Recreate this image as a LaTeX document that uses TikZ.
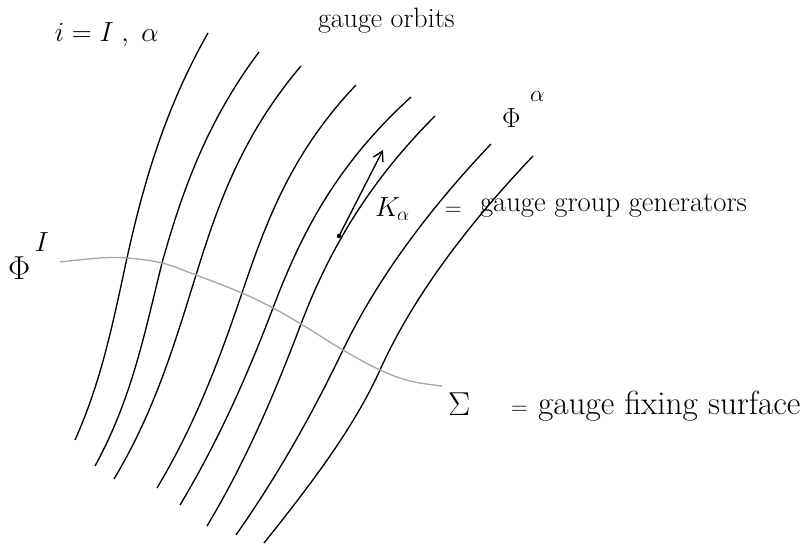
\documentclass[tikz,border=0pt]{standalone}
\usetikzlibrary{arrows.meta}
\tikzset{
  orbit/.style={line width=1pt, black},
  fixsurf/.style={line width=1pt, black!35},
  lbl/.style={anchor=base west, inner sep=0pt, outer sep=0pt},
}
\newcommand{\fs}[1]{\fontsize{#1}{#1}\selectfont}
\begin{document}
\begin{tikzpicture}[x=0.75pt, y=-0.75pt]
\useasboundingbox (0,0) rectangle (808,545);
% gauge orbits
\draw[orbit] (208,33) .. controls (165.3,108) and (143.5,183) .. (127,258)
                      .. controls (113.7,318.7) and (102.3,379.3) .. (75,440);
\draw[orbit] (259,52) .. controls (206.3,122.3) and (181.7,192.7) .. (162,263)
                      .. controls (145.1,330.7) and (132.2,398.3) .. (95,466);
\draw[orbit] (301,66) .. controls (241.8,135.7) and (217.6,205.3) .. (196,275)
                      .. controls (174.9,343) and (154.8,411) .. (114,479);
\draw[orbit] (356,85) .. controls (290.1,154.3) and (265.6,223.7) .. (242,293)
                      .. controls (219.9,358) and (196,423) .. (157,488);
\draw[orbit] (411,97) .. controls (333.7,167.3) and (299.7,237.7) .. (273,308)
                      .. controls (248,373.7) and (219.4,439.3) .. (180,505);
\draw[orbit] (435,116) .. controls (365.7,185.3) and (327.3,254.7) .. (301,324)
                       .. controls (275.4,391.3) and (247.4,458.7) .. (207,526);
\draw[orbit] (491,144) .. controls (425.8,212.7) and (376,281.3) .. (343,350)
                       .. controls (313.4,411.7) and (279.2,473.3) .. (236,535);
\draw[orbit] (533,156) .. controls (465.3,227.3) and (412.1,298.7) .. (380,370)
                       .. controls (354,427.7) and (310.2,485.3) .. (264,543);
% gauge fixing surface
\draw[fixsurf] plot[smooth, tension=0.6] coordinates {(60,262) (100,258) (127,258) (162,263) (196,275) (242,293) (273,308) (301,324) (343,350) (380,370) (410,381) (442,386)};
% generator arrow
\coordinate (kbase) at (339,236);
\coordinate (ktip) at (383,150);
\fill (kbase) circle[radius=2.2];
\draw[line width=1pt, -{Straight Barb[length=7pt, width=8pt]}] (kbase) -- (ktip);
% labels
\node[lbl] (idx) at (55,42) {\fs{20}$i = I\;,\ \alpha$};
\node[lbl] (orb) at (318,28) {\fs{21}gauge orbits};
\node[lbl] (phia) at (502,128) {\fs{22}$\Phi$};
\node[lbl] (phiasup) at (530,102) {\fs{18}$\alpha$};
\node[lbl] (kk) at (375,217) {\fs{20}$K$};
\node[lbl] (kksub) at (397,221) {\fs{15}$\alpha$};
\node[lbl] (eq1) at (445,216) {\fs{17}$=$};
\node[lbl] (ggg) at (480,212) {\fs{21.5}gauge group generators};
\node[lbl] (phii) at (8,280) {\fs{25}$\Phi$};
\node[lbl] (phiisup) at (35,252) {\fs{22}$I$};
\node[lbl] (sig) at (448,416) {\fs{23}$\Sigma$};
\node[lbl] (eq2) at (511,415) {\fs{18}$=$};
\node[lbl] (gfs) at (538,415) {\fs{25}gauge fixing surface};
\end{tikzpicture}
\end{document}
